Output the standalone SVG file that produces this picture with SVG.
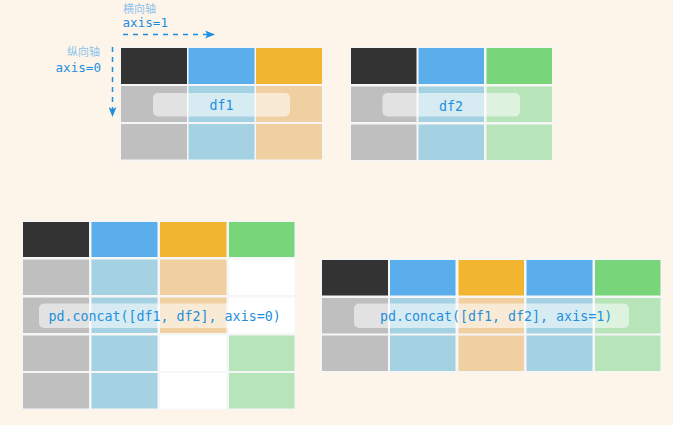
<svg xmlns="http://www.w3.org/2000/svg" width="673" height="425" viewBox="0 0 673 425">
<defs>
<style>
.bg{fill:#fdf5ea}
.frame{fill:#f6f6f6}
.k{fill:#333333}
.b{fill:#5baeec}
.o{fill:#f1b530}
.g{fill:#78d57a}
.gr{fill:#bfbfbf}
.lb{fill:#a5d2e3}
.t{fill:#f0d0a1}
.lg{fill:#b7e4b8}
.w{fill:#ffffff}
.pill{fill:#ffffff;fill-opacity:0.55}
.code{font-family:"DejaVu Sans Mono","Liberation Mono",monospace;font-size:13.3px;fill:#1e8fe0}
.ax{font-family:"DejaVu Sans Mono","Liberation Mono",monospace;font-size:12.6px;fill:#1e8fe0}
.cn{font-family:"Noto Sans CJK SC",sans-serif;font-size:11px;fill:#8cc2ea}
.dash{stroke:#1e8fe0;stroke-width:1.5;stroke-dasharray:5,5;fill:none}
</style>
<marker id="ah" markerWidth="10" markerHeight="8" refX="9" refY="4" orient="auto" markerUnits="userSpaceOnUse">
<path d="M0,0 L10,4 L0,8 L2.5,4 Z" fill="#1e8fe0"/>
</marker>
</defs>
<rect class="bg" x="0" y="0" width="673" height="425"/>

<g id="axis-labels">
<text class="cn" x="123" y="13">横向轴</text>
<text class="ax" x="122.5" y="27">axis=1</text>
<text class="cn" x="100" y="56" text-anchor="end">纵向轴</text>
<text class="ax" x="101" y="72" text-anchor="end">axis=0</text>
</g>

<g id="connectors">
<path class="dash" d="M123,34.5 L214,34.5" marker-end="url(#ah)"/>
<path class="dash" d="M112.5,47 L112.5,116" marker-end="url(#ah)"/>
</g>

<g id="df1">
<rect class="frame" x="119.5" y="46.5" width="204" height="114.5"/>
<rect class="k" x="121" y="48" width="66" height="36"/>
<rect class="b" x="188.5" y="48" width="66" height="36"/>
<rect class="o" x="256" y="48" width="66" height="36"/>
<rect class="gr" x="121" y="86" width="66" height="36"/>
<rect class="lb" x="188.5" y="86" width="66" height="36"/>
<rect class="t" x="256" y="86" width="66" height="36"/>
<rect class="gr" x="121" y="124" width="66" height="35.5"/>
<rect class="lb" x="188.5" y="124" width="66" height="35.5"/>
<rect class="t" x="256" y="124" width="66" height="35.5"/>
<rect class="pill" x="153" y="93" width="137" height="23.5" rx="5"/>
<text class="code" x="221.6" y="110" text-anchor="middle">df1</text>
</g>

<g id="df2">
<rect class="frame" x="349.5" y="46.5" width="203.5" height="114.5"/>
<rect class="k" x="351" y="48" width="65.5" height="36"/>
<rect class="b" x="418.5" y="48" width="65.5" height="36"/>
<rect class="g" x="486.5" y="48" width="65.5" height="36"/>
<rect class="gr" x="351" y="86.5" width="65.5" height="35.5"/>
<rect class="lb" x="418.5" y="86.5" width="65.5" height="35.5"/>
<rect class="lg" x="486.5" y="86.5" width="65.5" height="35.5"/>
<rect class="gr" x="351" y="124.5" width="65.5" height="35.5"/>
<rect class="lb" x="418.5" y="124.5" width="65.5" height="35.5"/>
<rect class="lg" x="486.5" y="124.5" width="65.5" height="35.5"/>
<rect class="pill" x="382.5" y="93" width="137.5" height="23.5" rx="5"/>
<text class="code" x="451" y="110.5" text-anchor="middle">df2</text>
</g>

<g id="concat-axis0">
<rect class="frame" x="21.5" y="220.5" width="274.5" height="189.5"/>
<rect class="k" x="23" y="222" width="66" height="35"/>
<rect class="b" x="91.5" y="222" width="66" height="35"/>
<rect class="o" x="160" y="222" width="66.5" height="35"/>
<rect class="g" x="229" y="222" width="65.5" height="35"/>
<rect class="gr" x="23" y="259.5" width="66" height="35.5"/>
<rect class="lb" x="91.5" y="259.5" width="66" height="35.5"/>
<rect class="t" x="160" y="259.5" width="66.5" height="35.5"/>
<rect class="w" x="229" y="259.5" width="65.5" height="35.5"/>
<rect class="gr" x="23" y="297.5" width="66" height="35.5"/>
<rect class="lb" x="91.5" y="297.5" width="66" height="35.5"/>
<rect class="t" x="160" y="297.5" width="66.5" height="35.5"/>
<rect class="w" x="229" y="297.5" width="65.5" height="35.5"/>
<rect class="gr" x="23" y="335.5" width="66" height="35.5"/>
<rect class="lb" x="91.5" y="335.5" width="66" height="35.5"/>
<rect class="w" x="160" y="335.5" width="66.5" height="35.5"/>
<rect class="lg" x="229" y="335.5" width="65.5" height="35.5"/>
<rect class="gr" x="23" y="373" width="66" height="35.5"/>
<rect class="lb" x="91.5" y="373" width="66" height="35.5"/>
<rect class="w" x="160" y="373" width="66.5" height="35.5"/>
<rect class="lg" x="229" y="373" width="65.5" height="35.5"/>
<rect class="pill" x="39" y="303.5" width="244.5" height="24.5" rx="5"/>
<text class="code" x="48.5" y="320.5">pd.concat([df1, df2], axis=0)</text>
</g>

<g id="concat-axis1">
<rect class="frame" x="320.5" y="258.5" width="341.5" height="114"/>
<rect class="k" x="322" y="260" width="66" height="35.5"/>
<rect class="b" x="390" y="260" width="65.5" height="35.5"/>
<rect class="o" x="458.5" y="260" width="65.5" height="35.5"/>
<rect class="b" x="526.5" y="260" width="66" height="35.5"/>
<rect class="g" x="595" y="260" width="65.5" height="35.5"/>
<rect class="gr" x="322" y="298" width="66" height="35.5"/>
<rect class="lb" x="390" y="298" width="65.5" height="35.5"/>
<rect class="t" x="458.5" y="298" width="65.5" height="35.5"/>
<rect class="lb" x="526.5" y="298" width="66" height="35.5"/>
<rect class="lg" x="595" y="298" width="65.5" height="35.5"/>
<rect class="gr" x="322" y="335.5" width="66" height="35.5"/>
<rect class="lb" x="390" y="335.5" width="65.5" height="35.5"/>
<rect class="t" x="458.5" y="335.5" width="65.5" height="35.5"/>
<rect class="lb" x="526.5" y="335.5" width="66" height="35.5"/>
<rect class="lg" x="595" y="335.5" width="65.5" height="35.5"/>
<rect class="pill" x="354" y="303.5" width="275" height="24.5" rx="5"/>
<text class="code" x="380" y="320.5">pd.concat([df1, df2], axis=1)</text>
</g>
</svg>
